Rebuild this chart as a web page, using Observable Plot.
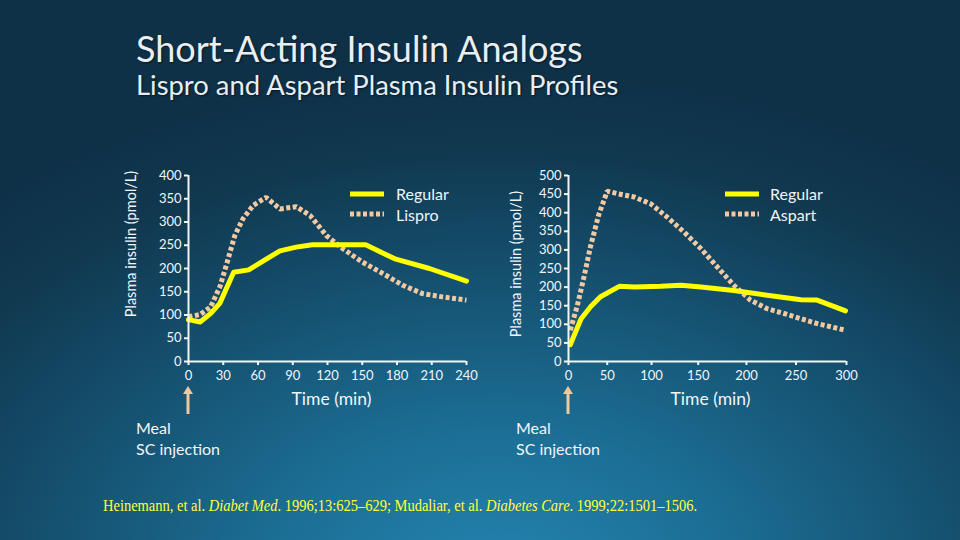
<!DOCTYPE html>
<html>
<head>
<meta charset="utf-8">
<script src="https://cdn.jsdelivr.net/npm/d3@7"></script>
<script src="https://cdn.jsdelivr.net/npm/@observablehq/plot@0.6"></script>
<style>
  html, body { margin: 0; padding: 0; }
  body {
    width: 960px; height: 540px; overflow: hidden; position: relative;
    font-family: Lato, "Open Sans", sans-serif;
    background: radial-gradient(ellipse 80% 95% at 52% 108%, #2385b0 0%, #1c6e95 30%, #15506f 60%, #10384f 85%, #0e3148 100%);
  }
  .abs { position: absolute; white-space: nowrap; }
  #title { left: 136px; top: 26px; font-size: 36px; color: #e9eef2; text-shadow: 1px 1px 2px rgba(0,0,0,0.55); }
  #subtitle { left: 136px; top: 68px; font-size: 27.4px; color: #e9eef2; text-shadow: 1px 1px 2px rgba(0,0,0,0.55); }
  .leg { font-size: 16px; color: #f2f5f7; }
  .meal { font-size: 16px; color: #f2f5f7; line-height: 21px; }
  .ylab { font-size: 14.5px; color: #f2f5f7; transform: translate(-50%, -50%) rotate(-90deg); }
  #footer { left: 103px; top: 497px; font-family: "Liberation Serif", "Times New Roman", serif; font-size: 16px; color: #ffff3c; transform: scaleX(0.905); transform-origin: 0 50%; }
</style>
</head>
<body>
<div id="title" class="abs">Short-Acting Insulin Analogs</div>
<div id="subtitle" class="abs">Lispro and Aspart Plasma Insulin Profiles</div>
<div id="left" class="abs" style="left:100px;top:160px;"></div>
<div id="right" class="abs" style="left:480px;top:160px;"></div>

<div class="abs ylab" style="left:130px;top:244px;">Plasma insulin (pmol/L)</div>
<div class="abs ylab" style="left:515px;top:264px;">Plasma insulin (pmol/L)</div>

<div class="abs leg" style="left:349px;top:183px;">
  <svg width="36" height="36">
    <line x1="1" x2="35" y1="11" y2="11" stroke="#ffff00" stroke-width="5"/>
    <line x1="1" x2="35" y1="31" y2="31" stroke="#f3c9a2" stroke-width="5" stroke-dasharray="4,2.5"/>
  </svg>
</div>
<div class="abs leg" style="left:396px;top:183px;line-height:21px;">Regular<br>Lispro</div>

<div class="abs leg" style="left:724px;top:183px;">
  <svg width="36" height="36">
    <line x1="1" x2="35" y1="11" y2="11" stroke="#ffff00" stroke-width="5"/>
    <line x1="1" x2="35" y1="31" y2="31" stroke="#f3c9a2" stroke-width="5" stroke-dasharray="4,2.5"/>
  </svg>
</div>
<div class="abs leg" style="left:770px;top:183px;line-height:21px;">Regular<br>Aspart</div>

<svg class="abs" style="left:181px;top:384px;" width="14" height="32"><path d="M7,30 V8" stroke="#f0c8a0" stroke-width="3"/><path d="M2,10 L7,2 L12,10 Z" fill="#f0c8a0"/></svg>
<svg class="abs" style="left:561px;top:384px;" width="14" height="32"><path d="M7,30 V8" stroke="#f0c8a0" stroke-width="3"/><path d="M2,10 L7,2 L12,10 Z" fill="#f0c8a0"/></svg>
<div class="abs meal" style="left:136px;top:417px;">Meal<br>SC injection</div>
<div class="abs meal" style="left:516px;top:417px;">Meal<br>SC injection</div>

<div id="footer" class="abs">Heinemann, et al. <i>Diabet Med</i>. 1996;13:625–629; Mudaliar, et al. <i>Diabetes Care</i>. 1999;22:1501–1506.</div>

<script>
// ---- Data: left panel (Regular vs Lispro), minutes and pmol/L ----
const leftRegularTime = [0, 10, 19, 27, 39, 52, 65, 79, 93, 107, 153, 168, 179, 208, 240];
const leftRegularValue = [90, 85, 103, 125, 192, 197, 217, 238, 246, 251, 251, 233, 220, 200, 173];
const lisproTime = [0, 10, 19, 27, 33, 40, 47, 56, 67, 79, 93, 105, 119, 133, 150, 168, 185, 202, 219, 240];
const lisproValue = [96, 101, 117, 160, 210, 271, 307, 336, 353, 328, 333, 314, 271, 243, 214, 189, 164, 146, 139, 132];
const leftXTicks = [0, 30, 60, 90, 120, 150, 180, 210, 240];
const leftYTicks = [0, 50, 100, 150, 200, 250, 300, 350, 400];

// ---- Data: right panel (Regular vs Aspart) ----
const rightRegularTime = [3, 18, 30, 42, 64, 81, 110, 132, 153, 187, 221, 255, 271, 299];
const rightRegularValue = [45, 115, 147, 174, 202, 200, 202, 205, 200, 191, 178, 166, 165, 136];
const aspartTime = [3, 13, 22, 30, 40, 50, 62, 81, 99, 117, 135, 153, 170, 187, 204, 221, 238, 255, 271, 299];
const aspartValue = [84, 150, 230, 310, 395, 458, 451, 442, 424, 388, 348, 303, 254, 205, 165, 142, 129, 115, 102, 84];
const rightXTicks = [0, 50, 100, 150, 200, 250, 300];
const rightYTicks = [0, 50, 100, 150, 200, 250, 300, 350, 400, 450, 500];

const xLabel = "Time (min)";

const zip = (t, v) => t.map((x, i) => ({x, y: v[i]}));

const WHITE = "#f2f5f7";
const YELLOW = "#ffff00";
const PEACH = "#f3c9a2";

function panel({regular, analog, xDomain, yDomain, xTicks, yTicks, xScale, xLabelDx}) {
  return Plot.plot({
    width: 400, height: 250,
    marginLeft: 88, marginRight: 34, marginTop: 15, marginBottom: 49,
    style: {background: "transparent", fontFamily: "Lato, sans-serif", fontSize: "13px", color: WHITE, overflow: "visible"},
    x: {domain: xDomain, ...xScale},
    y: {domain: yDomain},
    marks: [
      Plot.line(analog, {x: "x", y: "y", stroke: PEACH, strokeWidth: 5, strokeDasharray: "4 2.5", strokeLinecap: "butt", strokeLinejoin: "miter"}),
      Plot.line(regular, {x: "x", y: "y", stroke: YELLOW, strokeWidth: 5, strokeLinejoin: "round"}),
      Plot.axisX({ticks: xTicks, tickSize: 4, tickPadding: 5, label: null, stroke: WHITE, strokeWidth: 2, fill: WHITE}),
      Plot.axisY({ticks: yTicks, tickSize: 4, tickPadding: 3, label: null, stroke: WHITE, strokeWidth: 2, fill: WHITE}),
      Plot.ruleY([yDomain[0]], {stroke: WHITE, strokeWidth: 2}),
      Plot.ruleX([xDomain[0]], {stroke: WHITE, strokeWidth: 2}),
      Plot.text([xLabel], {frameAnchor: "bottom", dx: xLabelDx, dy: 43, fill: WHITE, fontSize: 17.5})
    ]
  });
}

document.getElementById("left").append(panel({
  regular: zip(leftRegularTime, leftRegularValue),
  analog: zip(lisproTime, lisproValue),
  xDomain: [0, 240], yDomain: [0, 400],
  xTicks: leftXTicks, yTicks: leftYTicks,
  xScale: {type: "linear"}, xLabelDx: 4
}));

document.getElementById("right").append(panel({
  regular: zip(rightRegularTime, rightRegularValue),
  analog: zip(aspartTime, aspartValue),
  xDomain: [0, 300], yDomain: [0, 500],
  xTicks: rightXTicks, yTicks: rightYTicks,
  xScale: {type: "pow", exponent: 1.1}, xLabelDx: 3
}));
</script>
</body>
</html>
